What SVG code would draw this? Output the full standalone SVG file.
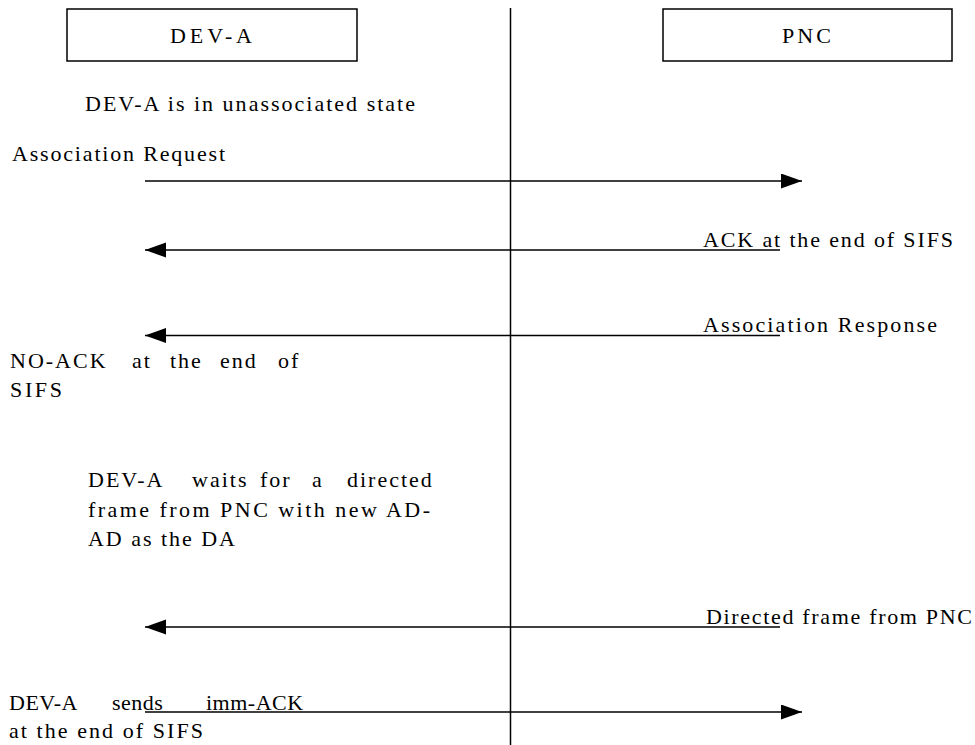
<svg xmlns="http://www.w3.org/2000/svg" width="975" height="745" viewBox="0 0 975 745">
<defs>
<style>
text{font-family:"Liberation Serif","Times New Roman",serif;font-size:22px;fill:#000;}
.sp{letter-spacing:2px;}
.sp1{letter-spacing:0.5px;}
.box{fill:#fff;stroke:#000;stroke-width:1.5;}
.ln{stroke:#000;stroke-width:1.5;fill:none;}
.msg{stroke:#000;stroke-width:1.5;fill:none;marker-end:url(#ah);}
</style>
<marker id="ah" markerUnits="userSpaceOnUse" markerWidth="22" markerHeight="16" refX="21" refY="7.5" orient="auto">
<path d="M0,0 L21,7.5 L0,15 Z" fill="#000"/>
</marker>
</defs>
<rect width="975" height="745" fill="#fff"/>
<g id="lifeline">
<line class="ln" x1="510.5" y1="8" x2="510.5" y2="745"/>
</g>
<g id="dev-a">
<rect class="box" x="67" y="9" width="290" height="52"/>
<text x="170" y="43" textLength="82" lengthAdjust="spacing">DEV-A</text>
</g>
<g id="pnc">
<rect class="box" x="663" y="9" width="289" height="52"/>
<text x="782" y="43" textLength="49" lengthAdjust="spacing">PNC</text>
</g>
<g id="connectors">
<line class="msg" x1="145" y1="181" x2="802" y2="181"/>
<line class="msg" x1="780" y1="250" x2="145" y2="250"/>
<line class="msg" x1="780" y1="335.5" x2="145" y2="335.5"/>
<line class="msg" x1="780" y1="627" x2="145" y2="627"/>
<line class="msg" x1="145" y1="712" x2="802" y2="712"/>
</g>
<g id="labels">
<text x="85" y="111" textLength="330" lengthAdjust="spacing">DEV-A is in unassociated state</text>
<text x="12" y="161" textLength="213" lengthAdjust="spacing">Association Request</text>
<text x="703" y="247" textLength="250" lengthAdjust="spacing">ACK at the end of SIFS</text>
<text x="703" y="332" textLength="234" lengthAdjust="spacing">Association Response</text>
<text class="sp" y="368"><tspan x="10">NO-ACK</tspan><tspan x="132">at</tspan><tspan x="170">the</tspan><tspan x="220">end</tspan><tspan x="278">of</tspan></text>
<text x="10" y="397" textLength="52" lengthAdjust="spacing">SIFS</text>
<text class="sp" y="487"><tspan x="88">DEV-A</tspan><tspan x="192">waits</tspan><tspan x="260">for</tspan><tspan x="312">a</tspan><tspan x="347">directed</tspan></text>
<text x="88" y="516.5" textLength="342" lengthAdjust="spacing">frame from PNC with new AD-</text>
<text x="88" y="545.5" textLength="147" lengthAdjust="spacing">AD as the DA</text>
<text x="706" y="624" textLength="266" lengthAdjust="spacing">Directed frame from PNC</text>
<text class="sp1" y="710"><tspan x="9">DEV-A</tspan><tspan x="112">sends</tspan><tspan x="206">imm-ACK</tspan></text>
<text x="9" y="738" textLength="194" lengthAdjust="spacing">at the end of SIFS</text>
</g>
</svg>
